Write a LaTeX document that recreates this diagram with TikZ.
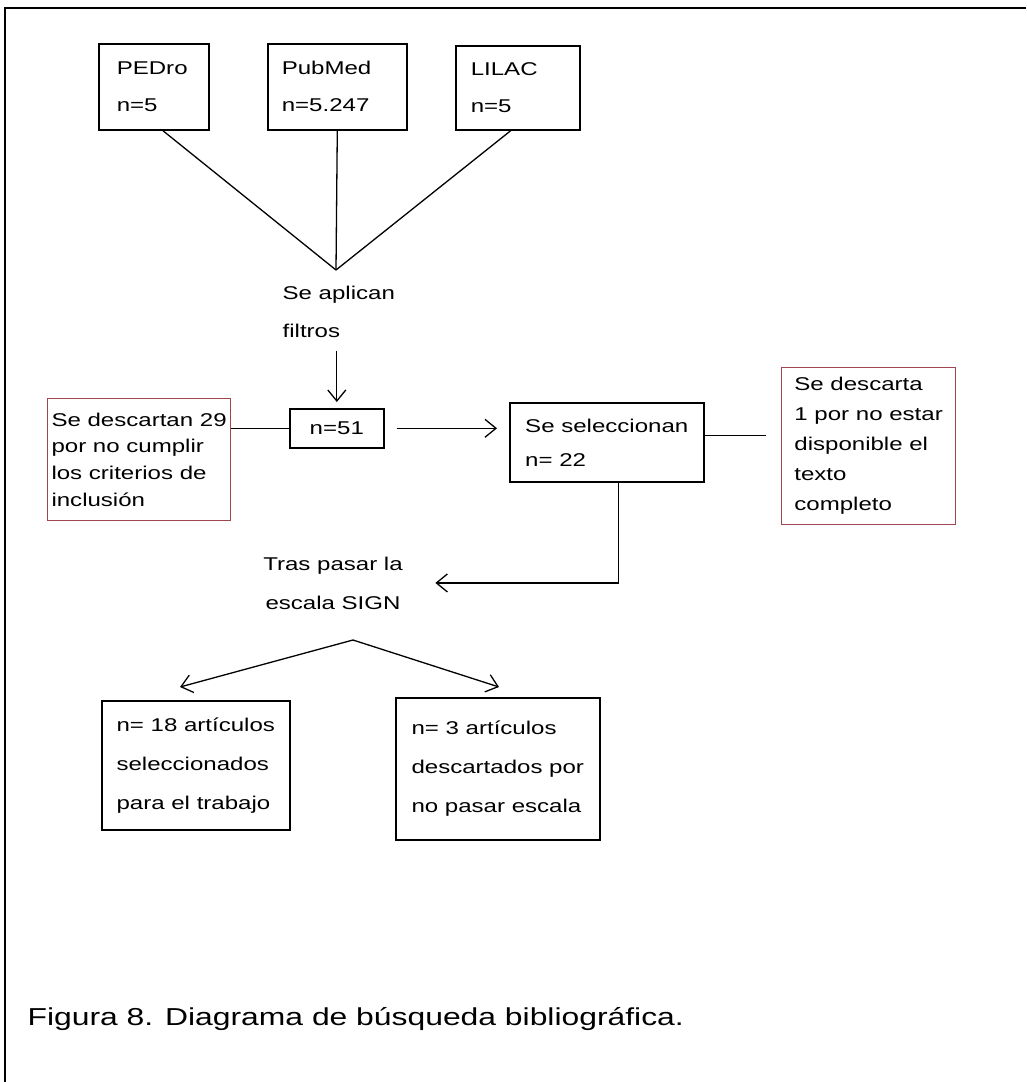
\documentclass[tikz,border=0pt]{standalone}
\usepackage{fontspec}
\setmainfont{Liberation Sans}[FakeStretch=1.3]
\usetikzlibrary{arrows.meta}
\definecolor{discard}{RGB}{160,70,80}

\begin{document}
\begin{tikzpicture}[x=1pt, y=-1pt, line width=1.3pt,
        txt/.style={font=\fontsize{18.5}{#1}\selectfont},
        box/.style={draw, line width=1.6pt, anchor=north west, align=left, inner ysep=0pt},
        redbox/.style={box, draw=discard, line width=1.2pt},
        arr/.style={-{Straight Barb[length=11pt, width=18pt]}}]
        \useasboundingbox (0,0) rectangle (1026,1082);

        % The frame
        \draw[line width=2.5pt] (1026,8) -- (5,8) -- (5,1082);

        % The databases
        \node[box, txt=37, minimum width=110, minimum height=86, inner xsep=18, text width=74] (pedro) at (98,43) {PEDro\\n=5};
        \node[box, txt=37, minimum width=139, minimum height=86, inner xsep=14, text width=111] (pubmed) at (267,43) {PubMed\\n=5.247};
        \node[box, txt=37, minimum width=124, minimum height=84, inner xsep=15, text width=94] (lilac) at (455,45) {LILAC\\n=5};

        \coordinate (join) at (336,270);
        \draw ([xshift=9]pedro.south) -- (join);
        \draw (pubmed.south) -- (join);
        \draw ([xshift=-7]lilac.south) -- (join);

        % Filters
        \node[txt=38, align=left, inner sep=0pt, anchor=north west] (filt) at (282,285) {Se aplican\\filtros};
        \node[box, txt=20, minimum width=94, minimum height=39, align=center] (n51) at (289,408) {n=51};
        \draw[arr, shorten <=13pt, shorten >=6pt] (n51.north |- filt.south) -- (n51.north);

        % Discarded by criteria
        \node[redbox, txt=26.7, minimum width=183, minimum height=122] (descl) at (47,398) {Se descartan 29\\por no cumplir\\los criterios de\\inclusión};
        \draw (descl.east |- n51.west) -- (n51.west);

        % Selected
        \node[box, txt=34, minimum width=194, minimum height=79] (sel) at (509,402) {Se seleccionan\\n= 22};
        \draw[arr, shorten <=12pt, shorten >=12pt] (n51.east) -- (n51.east -| sel.west);

        \node[redbox, txt=30, minimum width=174, minimum height=157] (descr) at (781,367) {Se descarta\\1 por no estar\\disponible el\\texto\\completo};
        \draw[shorten >=15pt] ([yshift=7]sel.east) -- ([yshift=7]sel.east -| descr.west);

        % SIGN scale
        \node[txt=39, align=center, inner sep=0pt, anchor=north] (tras) at (333,556) {Tras pasar la\\escala SIGN};
        \draw[arr, shorten >=32pt] ([xshift=12]sel.south) |- (tras.east);

        % Final split
        \node[box, txt=39, minimum width=188, minimum height=129] (art18) at (101,700) {n= 18 artículos\\seleccionados\\para el trabajo};
        \node[box, txt=39, minimum width=204, minimum height=142] (art3) at (395,697) {n= 3 artículos\\descartados por\\no pasar escala};
        \coordinate (split) at (353,640);
        \coordinate (tipl) at (180,687);
        \coordinate (tipr) at (499,687);
        \draw[arr] (split) -- (tipl);
        \draw[arr] (split) -- (tipr);

        % Caption
        \node[anchor=west, inner sep=0pt, font=\fontsize{24.5}{30}\selectfont] (caption) at (27,1019) {Figura 8. Diagrama de búsqueda bibliográfica.};
\end{tikzpicture}
\end{document}
